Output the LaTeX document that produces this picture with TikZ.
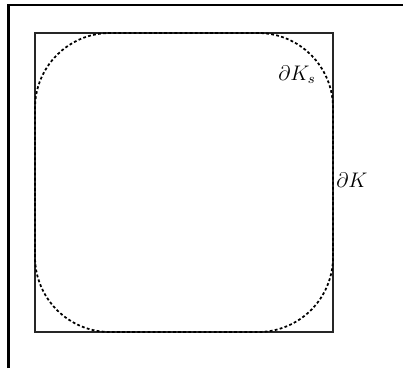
\documentclass[tikz,border=0pt]{standalone}
\usepackage{amsmath, amssymb}
\usepackage{tikz}
\usetikzlibrary{positioning}

\begin{document}
\begin{tikzpicture}
	\useasboundingbox (0,0) rectangle (8.06,7.36);
	\draw[line width=1.2pt] (0.17,0) -- (0.17,7.26) -- (8.06,7.26);
	\draw[line width=0.8pt, black!85] (0.70,0.72) rectangle (6.66,6.70);
	\draw[line width=1pt, dash pattern=on 1.6pt off 1.3pt, rounded corners=1.5cm] (0.70,0.72) rectangle (6.66,6.70);
	\node[font=\large] (lblKs) at (5.94,5.86) {$\partial K_s$};
	\node[font=\large] (lblK) at (7.04,3.76) {$\partial K$};
\end{tikzpicture}
\end{document}
